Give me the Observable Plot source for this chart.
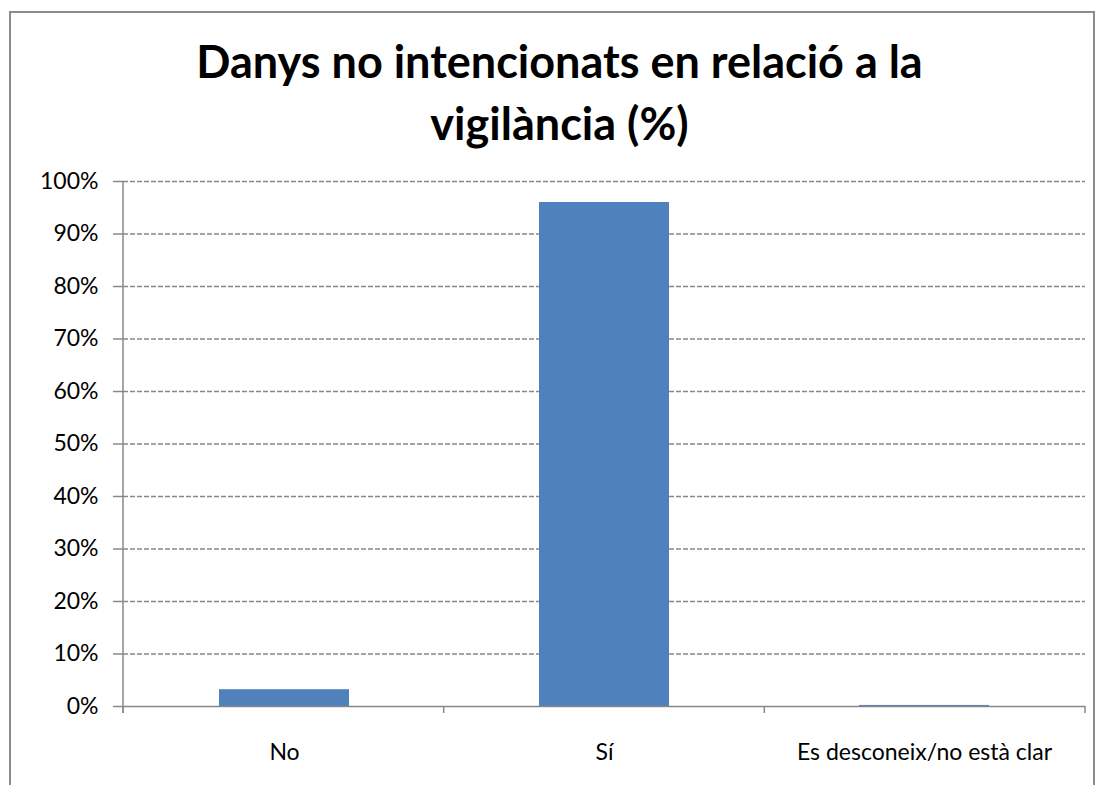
<!DOCTYPE html>
<html>
<head>
<meta charset="utf-8">
<script src="https://cdn.jsdelivr.net/npm/d3@7"></script>
<script src="https://cdn.jsdelivr.net/npm/@observablehq/plot@0.6"></script>
<style>
  html, body { margin: 0; padding: 0; background: #fff; }
  #wrap { position: relative; width: 1103px; height: 785px; overflow: hidden; background: #fff; }
  #frame { position: absolute; left: 9px; top: 11px; width: 1086px; height: 800px; border: 2px solid #8c8c8c; box-sizing: border-box; }
  #title { position: absolute; left: 8px; top: 30px; width: 1103px; text-align: center; font-family: Lato, "Open Sans", sans-serif; font-weight: bold; font-size: 45px; line-height: 62px; color: #000; }
  #chart { position: absolute; left: 0; top: 0; }
</style>
</head>
<body>
<div id="wrap">
  <div id="frame"></div>
  <div id="title">Danys no intencionats en relació a la<br>vigilància (%)</div>
  <div id="chart"></div>
</div>
<script>
const categories = ["No", "Sí", "Es desconeix/no està clar"];
const values = [3.2, 96.0, 0.2];
const yTicks = [0, 10, 20, 30, 40, 50, 60, 70, 80, 90, 100];

const data = categories.map((c, i) => ({category: c, value: values[i]}));

const W = 1103, H = 785, mT = 181, mB = 79, mL = 123, mR = 18;

function frameLines(index, scales, vals, dims) {
  const g = d3.create("svg:g");
  const x0 = dims.marginLeft, x1 = dims.width - dims.marginRight;
  const y0 = dims.marginTop, y1 = dims.height - dims.marginBottom;
  const step = (x1 - x0) / categories.length;
  g.append("line").attr("x1", x0).attr("x2", x0).attr("y1", y0).attr("y2", y1 + 7)
    .attr("stroke", "#888").attr("stroke-width", 1.5);
  d3.range(categories.length + 1).forEach(k => {
    const xx = x0 + k * step;
    g.append("line").attr("x1", xx).attr("x2", xx).attr("y1", y1).attr("y2", y1 + 7)
      .attr("stroke", "#888").attr("stroke-width", 1.5);
  });
  return g.node();
}

const chart = Plot.plot({
  width: W, height: H,
  marginTop: mT, marginBottom: mB, marginLeft: mL, marginRight: mR,
  style: {fontFamily: "Lato, 'Open Sans', sans-serif", fontSize: "23px", color: "#000", background: "transparent"},
  x: {domain: categories, paddingInner: 0.595, paddingOuter: 0.2975, label: null},
  y: {domain: [0, 100], label: null},
  marks: [
    Plot.ruleY(yTicks.filter(d => d > 0), {stroke: "#888", strokeWidth: 1.3, strokeDasharray: "5,2"}),
    Plot.barY(data, {x: "category", y: "value", fill: "#4F81BD"}),
    Plot.ruleY([0], {stroke: "#888", strokeWidth: 1.5}),
    Plot.axisY({ticks: yTicks, tickFormat: d => d + "%", tickSize: 10, tickPadding: 15, stroke: "#888", strokeWidth: 1.5, label: null}),
    Plot.axisX({tickSize: 0, tickPadding: 37, label: null}),
    frameLines
  ]
});
document.getElementById("chart").appendChild(chart);
</script>
</body>
</html>
